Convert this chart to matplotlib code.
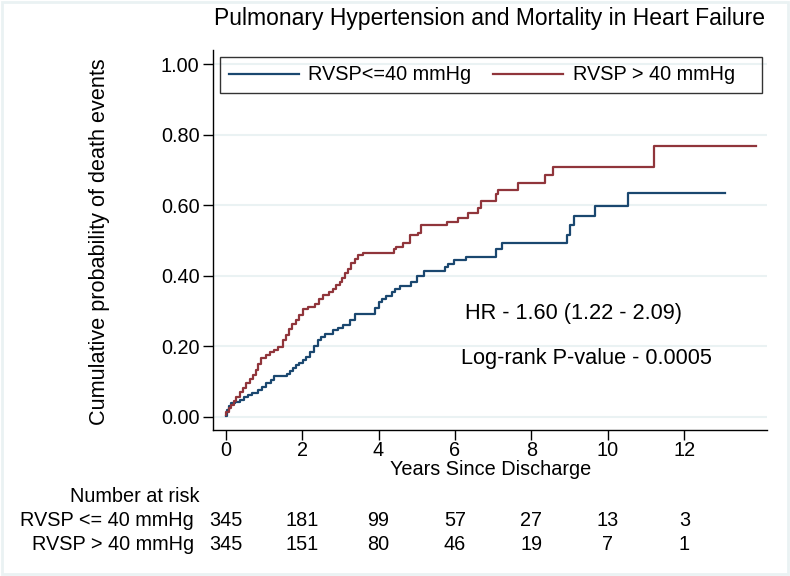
import matplotlib
matplotlib.use("Agg")
import matplotlib.pyplot as plt
import matplotlib.transforms as mtrans
from matplotlib.patches import Rectangle
from matplotlib.lines import Line2D

plt.rcParams['font.family'] = ['Liberation Sans', 'DejaVu Sans']

# ---- data ----
low_t = [0, 0.03, 0.08, 0.15, 0.25, 0.37, 0.48, 0.58, 0.7, 0.85, 0.95, 1.07, 1.18, 1.28,
         1.6, 1.68, 1.76, 1.85, 1.93, 2.02, 2.1, 2.2, 2.3, 2.42, 2.5, 2.59, 2.81, 2.95,
         3.07, 3.25, 3.38, 3.9, 4.0, 4.08, 4.2, 4.34, 4.42, 4.55, 4.86, 5.0, 5.2, 5.73,
         5.82, 5.97, 6.3, 7.07, 7.24, 8.92, 9.0, 9.1, 9.66, 10.53, 13.06]
low_v = [0.002, 0.019, 0.03, 0.038, 0.043, 0.049, 0.055, 0.062, 0.068, 0.076, 0.085, 0.095,
         0.105, 0.115, 0.122, 0.13, 0.138, 0.147, 0.154, 0.161, 0.17, 0.184, 0.2, 0.217,
         0.226, 0.236, 0.246, 0.252, 0.26, 0.274, 0.292, 0.31, 0.326, 0.335, 0.342, 0.354,
         0.362, 0.37, 0.383, 0.399, 0.414, 0.425, 0.433, 0.444, 0.454, 0.477, 0.492, 0.515,
         0.543, 0.57, 0.598, 0.636, 0.636]

high_t = [0, 0.02, 0.08, 0.15, 0.22, 0.28, 0.37, 0.45, 0.54, 0.63, 0.72, 0.8, 0.86, 0.93,
          1.05, 1.15, 1.27, 1.37, 1.5, 1.58, 1.66, 1.75, 1.85, 1.93, 2.02, 2.15, 2.33, 2.45,
          2.55, 2.7, 2.81, 2.9, 2.98, 3.05, 3.12, 3.2, 3.29, 3.38, 3.47, 3.6, 4.4, 4.47, 4.64,
          4.82, 5.03, 5.12, 5.78, 6.07, 6.33, 6.6, 6.69, 7.08, 7.12, 7.65, 8.35, 8.55,
          11.21, 13.87]
high_v = [0.005, 0.015, 0.024, 0.033, 0.045, 0.057, 0.071, 0.083, 0.095, 0.106, 0.118, 0.132,
          0.15, 0.166, 0.175, 0.184, 0.19, 0.198, 0.217, 0.232, 0.25, 0.262, 0.274, 0.29,
          0.305, 0.312, 0.321, 0.333, 0.345, 0.355, 0.364, 0.373, 0.383, 0.395, 0.407, 0.42,
          0.435, 0.448, 0.458, 0.465, 0.475, 0.482, 0.493, 0.515, 0.52, 0.545, 0.553, 0.564,
          0.577, 0.591, 0.612, 0.633, 0.643, 0.662, 0.685, 0.709, 0.768, 0.768]

xticks = [0, 2, 4, 6, 8, 10, 12]
yticks = [0.0, 0.2, 0.4, 0.6, 0.8, 1.0]
risk_low = [345, 181, 99, 57, 27, 13, 3]
risk_high = [345, 151, 80, 46, 19, 7, 1]
label_low = "RVSP<=40 mmHg"
label_high = "RVSP > 40 mmHg"
row_low = "RVSP <= 40 mmHg"
row_high = "RVSP > 40 mmHg"

BLUE = '#1a476f'
RED = '#90353b'
GRID = '#eaf2f3'
FS = 14.3

W, H = 790.0, 576.0
def xf(px):
    return px / W
def yf(px):
    return 1 - px / H

fig = plt.figure(figsize=(7.9, 5.76), dpi=100)
ax = fig.add_axes([0.270, 0.253, 0.701, 0.660])

ax.plot(low_t, low_v, drawstyle='steps-post', color=BLUE, lw=1.6, zorder=3)
ax.plot(high_t, high_v, drawstyle='steps-post', color=RED, lw=1.6, zorder=3)

ax.set_xlim(-0.32, 14.16)
ax.set_ylim(-0.038, 1.04)
ax.set_xticks(xticks)
ax.set_yticks(yticks)
ax.set_yticklabels([f"{v:.2f}" for v in yticks])
ax.tick_params(axis='both', direction='out', length=7, width=1, labelsize=FS, pad=3, colors='black')
ax.tick_params(axis='x', pad=1)
for s in ['top', 'right']:
    ax.spines[s].set_visible(False)
for s in ['left', 'bottom']:
    ax.spines[s].set_linewidth(1.0)
ax.yaxis.grid(True, color=GRID, lw=1.5, zorder=0)
ax.set_axisbelow(True)

ax.set_xlabel("Years Since Discharge", fontsize=FS, labelpad=0)
ax.set_ylabel("Cumulative probability of death events", fontsize=15.6)
ax.yaxis.set_label_coords(-0.186, 0.495)
fig.text(xf(490), yf(18), "Pulmonary Hypertension and Mortality in Heart Failure",
         fontsize=16.5, ha='center', va='center')

# legend: manual frame + frameless legend
fig.patches.append(Rectangle((xf(220), yf(93)), xf(762) - xf(220), yf(57) - yf(93),
                             transform=fig.transFigure, fill=False, edgecolor='#333333',
                             lw=1.0, zorder=5))
handles = [Line2D([], [], color=BLUE, lw=1.6), Line2D([], [], color=RED, lw=1.6)]
leg = fig.legend(handles, [label_low, label_high], loc='center left',
                 bbox_to_anchor=(xf(229), yf(75)), ncol=2, fontsize=FS, frameon=False,
                 handlelength=3.5, columnspacing=1.1, handletextpad=0.5, borderpad=0.0,
                 borderaxespad=0.0)

ax.text(6.26, 0.294, "HR - 1.60 (1.22 - 2.09)", fontsize=15.7, ha='left', va='center')
ax.text(6.15, 0.166, "Log-rank P-value - 0.0005", fontsize=15.7, ha='left', va='center')

# number at risk table
tr = mtrans.blended_transform_factory(ax.transData, fig.transFigure)
fig.text(xf(199), yf(497), "Number at risk", fontsize=FS, ha='right', va='center')
fig.text(xf(194), yf(521), row_low, fontsize=FS, ha='right', va='center')
fig.text(xf(194), yf(545), row_high, fontsize=FS, ha='right', va='center')
for t, a, b in zip(xticks, risk_low, risk_high):
    ax.text(t, yf(521), str(a), transform=tr, fontsize=FS, ha='center', va='center')
    ax.text(t, yf(545), str(b), transform=tr, fontsize=FS, ha='center', va='center')

fig.patches.append(Rectangle((0.002, 0.003), 0.995, 0.994, transform=fig.transFigure,
                             fill=False, edgecolor=GRID, lw=2))

fig.savefig("out.png", dpi=100)
